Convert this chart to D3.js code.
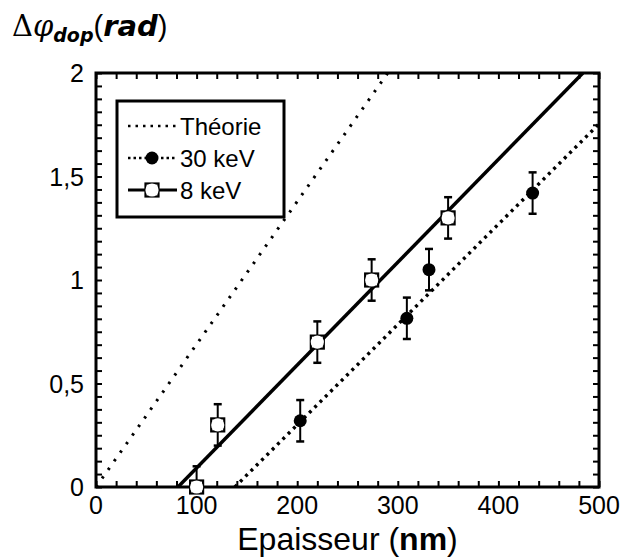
<!DOCTYPE html>
<html lang="fr">
<head>
    <meta charset="UTF-8">
    <title>Dephasage vs epaisseur</title>
    <style>
        body { margin: 0; background: #fff; }
        svg text { font-family: "Liberation Sans", Arial, sans-serif; fill: #000; }
        .axis path { display: none; }
        .axis line { stroke: #000; stroke-width: 2; }
    </style>
</head>
<body>
<script src="https://cdn.jsdelivr.net/npm/d3@7/dist/d3.min.js"></script>
<script type="text/javascript">
    // size of the page
    var w = 622;
    var h = 560;
    var margin = {left: 96, right: 23, top: 73, bottom: 73};

    // data
    var kev8X = [100, 121, 220, 274, 350];
    var kev8Y = [0.0, 0.30, 0.70, 1.00, 1.30];
    var kev30X = [203, 309, 331, 434];
    var kev30Y = [0.32, 0.815, 1.05, 1.42];
    var errBar = 0.1;

    // fitted lines (end points)
    var fit8X = [81.5, 484];
    var fit8Y = [0, 2];
    var fit30X = [138, 500];
    var fit30Y = [0, 1.754];
    var theoX = [0, 290];
    var theoY = [0, 2];

    var xTicks = [0, 100, 200, 300, 400, 500];
    var yTicks = [0, 0.5, 1, 1.5, 2];
    var yTickLabels = ["0", "0,5", "1", "1,5", "2"];

    var xScale = d3.scaleLinear()
        .domain([0, 500])
        .range([margin.left, w - margin.right]);
    var yScale = d3.scaleLinear()
        .domain([0, 2])
        .range([h - margin.bottom, margin.top]);

    var svg = d3.select("body")
        .append("svg")
        .attr("width", w)
        .attr("height", h);

    //minor ticks, inward on all four sides
    var xMinor = d3.range(0, 501, 20);
    var yMinor = d3.range(0, 2.0001, 0.0625);
    var x0 = xScale(0), x1 = xScale(500), y0 = yScale(0), y1 = yScale(2);

    svg.append("g").attr("class", "axis")
        .attr("transform", "translate(0," + y0 + ")")
        .call(d3.axisBottom(xScale).tickValues(xMinor).tickSize(-6).tickFormat(""));
    svg.append("g").attr("class", "axis")
        .attr("transform", "translate(0," + y1 + ")")
        .call(d3.axisTop(xScale).tickValues(xMinor).tickSize(-6).tickFormat(""));
    svg.append("g").attr("class", "axis")
        .attr("transform", "translate(" + x0 + ",0)")
        .call(d3.axisLeft(yScale).tickValues(yMinor).tickSize(-6).tickFormat(""));
    svg.append("g").attr("class", "axis")
        .attr("transform", "translate(" + x1 + ",0)")
        .call(d3.axisRight(yScale).tickValues(yMinor).tickSize(-6).tickFormat(""));

    //tick labels
    svg.selectAll("text.xlab")
        .data(xTicks)
        .enter()
        .append("text")
        .attr("class", "xlab")
        .attr("x", function(d) { return xScale(d); })
        .attr("y", y0 + 27)
        .attr("text-anchor", "middle")
        .attr("font-size", "25px")
        .text(function(d) { return d; });
    svg.selectAll("text.ylab")
        .data(yTicks)
        .enter()
        .append("text")
        .attr("class", "ylab")
        .attr("x", x0 - 12)
        .attr("y", function(d) { return yScale(d) + 9; })
        .attr("text-anchor", "end")
        .attr("font-size", "25px")
        .text(function(d, i) { return yTickLabels[i]; });

    //axis titles
    var xt = svg.append("text")
        .attr("x", (x0 + x1) / 2)
        .attr("y", 550)
        .attr("text-anchor", "middle")
        .attr("font-size", "32px");
    xt.append("tspan").text("Epaisseur (");
    xt.append("tspan").attr("font-weight", "bold").text("nm");
    xt.append("tspan").text(")");

    var yt = svg.append("text")
        .attr("x", 12)
        .attr("y", 36)
        .attr("font-size", "29px");
    yt.append("tspan").attr("font-family", "DejaVu Serif").text("Δ");
    yt.append("tspan").attr("font-family", "DejaVu Serif").attr("font-style", "italic").text("φ");
    yt.append("tspan").attr("font-family", "DejaVu Sans").attr("font-weight", "bold").attr("font-style", "italic")
        .attr("font-size", "19px").attr("dy", 6).text("dop");
    yt.append("tspan").attr("dy", -6).text("(");
    yt.append("tspan").attr("font-family", "DejaVu Sans").attr("font-weight", "bold").attr("font-style", "italic").text("rad");
    yt.append("tspan").text(")");

    //clip for the lines
    svg.append("clipPath").attr("id", "plot")
        .append("rect")
        .attr("x", x0).attr("y", y1)
        .attr("width", x1 - x0).attr("height", y0 - y1);

    var line = d3.line()
        .x(function(d) { return xScale(d[0]); })
        .y(function(d) { return yScale(d[1]); });

    var lines = svg.append("g").attr("clip-path", "url(#plot)");
    lines.append("path")
        .attr("d", line(d3.zip(theoX, theoY)))
        .attr("fill", "none").attr("stroke", "#000")
        .attr("stroke-width", 3).attr("stroke-dasharray", "2.5,8");
    lines.append("path")
        .attr("d", line(d3.zip(fit30X, fit30Y)))
        .attr("fill", "none").attr("stroke", "#000")
        .attr("stroke-width", 3.4).attr("stroke-dasharray", "3,4.5");
    lines.append("path")
        .attr("d", line(d3.zip(fit8X, fit8Y)))
        .attr("fill", "none").attr("stroke", "#000")
        .attr("stroke-width", 3.5);

    //frame
    svg.append("rect")
        .attr("x", x0).attr("y", y1)
        .attr("width", x1 - x0).attr("height", y0 - y1)
        .attr("fill", "none").attr("stroke", "#000").attr("stroke-width", 3);

    //error bars
    function drawErr(xs, ys) {
        var g = svg.append("g").attr("stroke", "#000");
        xs.forEach(function(xv, i) {
            var cx = xScale(xv);
            var ya = yScale(Math.max(ys[i] - errBar, 0));
            var yb = yScale(ys[i] + errBar);
            g.append("line").attr("x1", cx).attr("x2", cx).attr("y1", ya).attr("y2", yb).attr("stroke-width", 2);
            g.append("line").attr("x1", cx - 4).attr("x2", cx + 4).attr("y1", yb).attr("y2", yb).attr("stroke-width", 2.5);
            if (ys[i] - errBar > 0) {
                g.append("line").attr("x1", cx - 4).attr("x2", cx + 4).attr("y1", ya).attr("y2", ya).attr("stroke-width", 2.5);
            }
        });
    }
    drawErr(kev8X, kev8Y);
    drawErr(kev30X, kev30Y);

    //markers
    function squareMark(g, cx, cy) {
        g.append("rect")
            .attr("x", cx - 6.5).attr("y", cy - 6.5)
            .attr("width", 13).attr("height", 13)
            .attr("fill", "#fff").attr("stroke", "#000").attr("stroke-width", 2.2);
        g.append("circle")
            .attr("cx", cx).attr("cy", cy).attr("r", 6.6)
            .attr("fill", "#fff");
    }
    function dotMark(g, cx, cy) {
        g.append("circle")
            .attr("cx", cx).attr("cy", cy).attr("r", 6.5)
            .attr("fill", "#000");
    }

    var marks = svg.append("g");
    kev30X.forEach(function(xv, i) { dotMark(marks, xScale(xv), yScale(kev30Y[i])); });
    kev8X.forEach(function(xv, i) { squareMark(marks, xScale(xv), yScale(kev8Y[i])); });

    //legend
    var leg = svg.append("g");
    leg.append("rect")
        .attr("x", 117).attr("y", 101)
        .attr("width", 167).attr("height", 116)
        .attr("fill", "#fff").attr("stroke", "#000").attr("stroke-width", 3);
    var legRows = [
        {name: "Théorie", y: 126, dash: "2.5,5", mark: null},
        {name: "30 keV", y: 158, dash: "2.5,3", mark: "dot"},
        {name: "8 keV", y: 190, dash: null, mark: "square"}
    ];
    legRows.forEach(function(r) {
        leg.append("line")
            .attr("x1", 128).attr("x2", 177)
            .attr("y1", r.y).attr("y2", r.y)
            .attr("stroke", "#000")
            .attr("stroke-width", r.dash ? 2.5 : 3)
            .attr("stroke-dasharray", r.dash);
        if (r.mark == "dot") dotMark(leg, 152, r.y);
        if (r.mark == "square") squareMark(leg, 152, r.y);
        leg.append("text")
            .attr("x", 180).attr("y", r.y + 9)
            .attr("font-size", "24px")
            .text(r.name);
    });
</script>
</body>
</html>
